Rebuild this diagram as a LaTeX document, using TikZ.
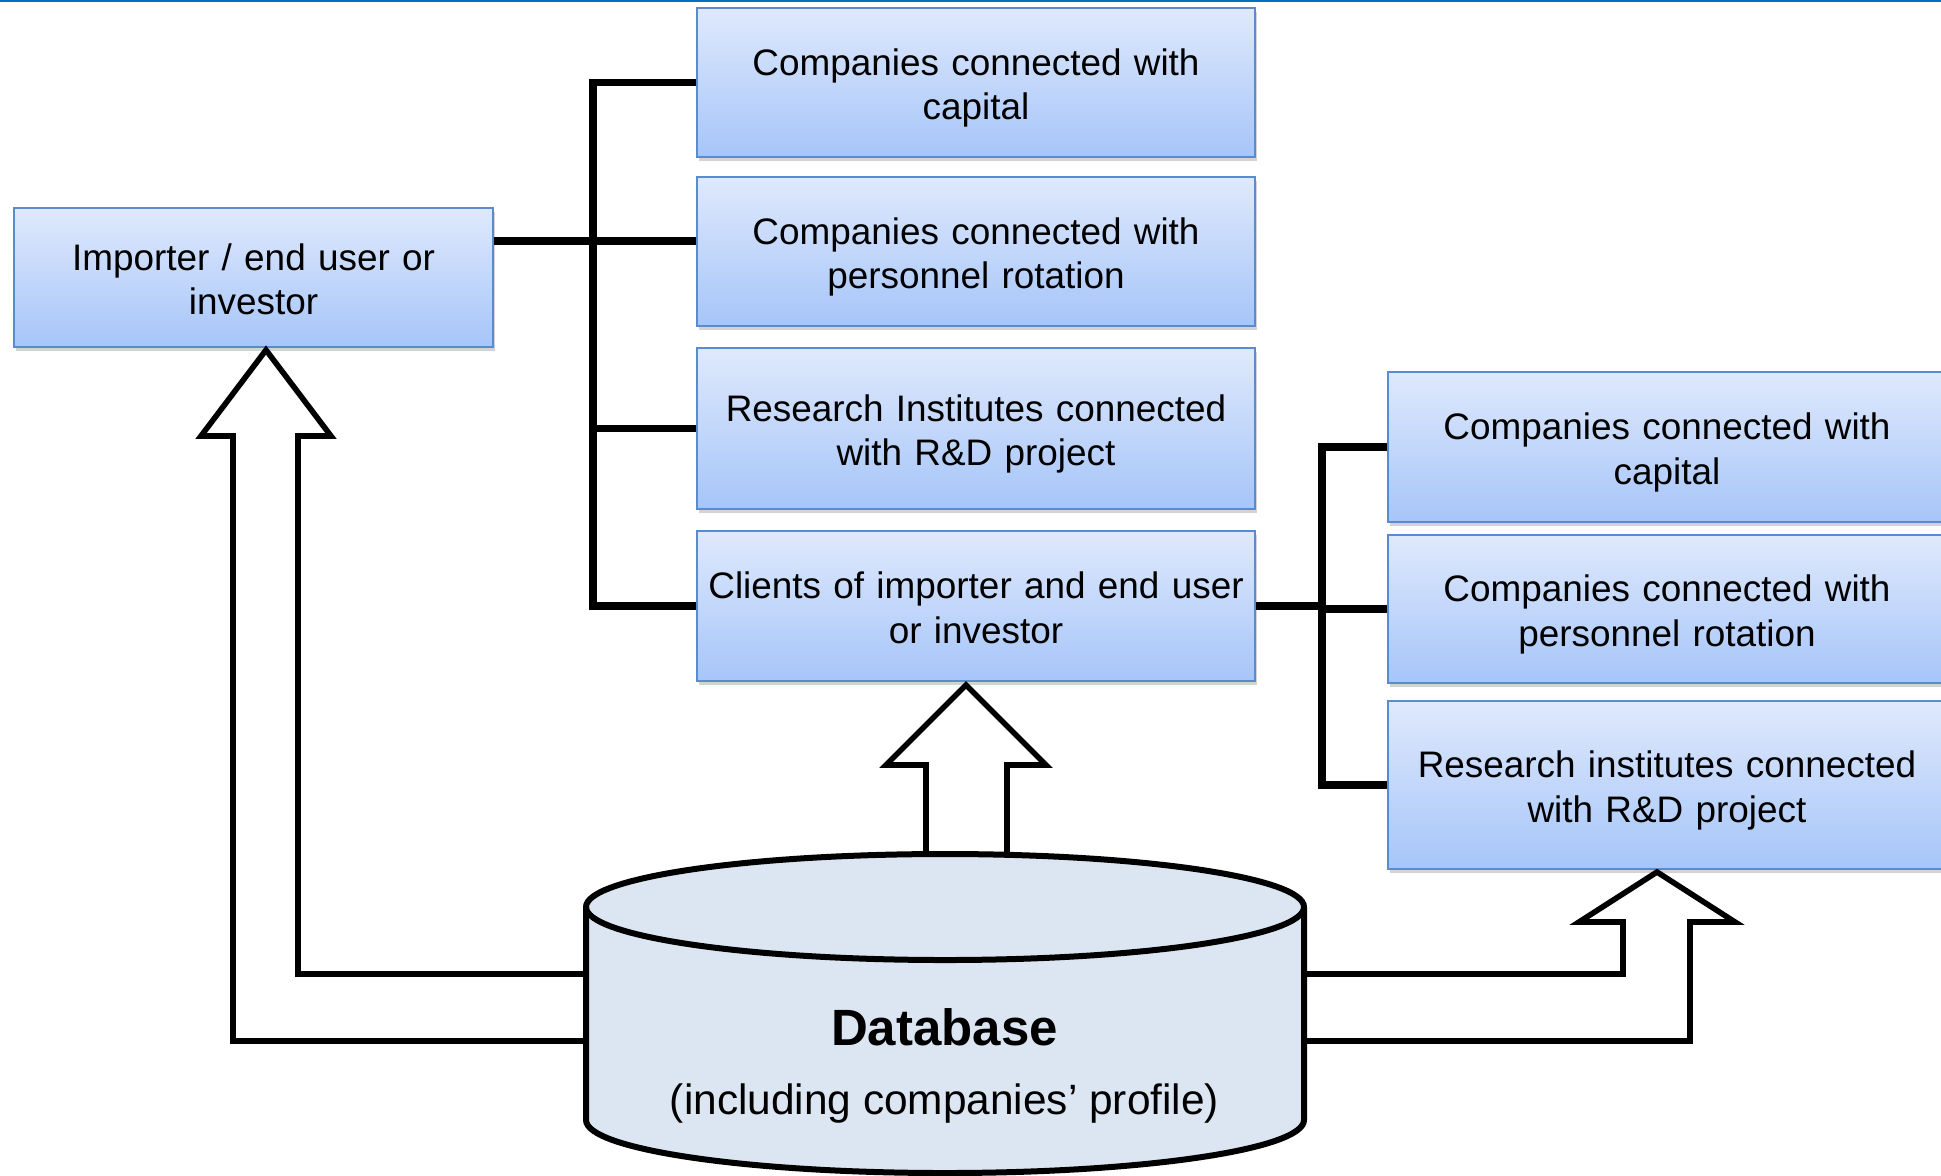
\documentclass[tikz,border=0pt]{standalone}
\usepackage{fontspec}
\setmainfont{Liberation Sans}
\usetikzlibrary{shadows}

\definecolor{boxtop}{HTML}{DFE9FC}
\definecolor{boxbot}{HTML}{A6C5F9}
\definecolor{boxedge}{HTML}{5A8BCF}
\definecolor{dbfill}{HTML}{DCE6F2}
\definecolor{rulecol}{HTML}{0070C0}

\tikzset{
  infobox/.style={draw=boxedge, line width=1pt, top color=boxtop, bottom color=boxbot,
    minimum width=279pt, text width=272pt, align=center, inner sep=2pt,
    font=\fontsize{18.45}{22.2}\selectfont,
    execute at begin node={\rule{0pt}{19.5pt}},
    execute at end node={\rule[-4.5pt]{0pt}{4.5pt}},
    drop shadow={opacity=0.35, shadow xshift=1pt, shadow yshift=-1.8pt}},
  bus/.style={line width=3.6pt},
  hollow/.style={line width=2.8pt, fill=white, line join=miter},
  dbshape/.style={line width=3pt, fill=dbfill}
}

\begin{document}
\begin{tikzpicture}[x=0.5pt, y=-0.5pt]
  \useasboundingbox (0,0) rectangle (1941,1175);
  \clip (0,0) rectangle (1941,1175);

  \draw[rulecol, line width=1pt] (0,1) -- (1941,1);

  \node[infobox, minimum width=239.5pt, text width=230pt, minimum height=69.5pt] (imp) at (253.5,277.5) {Importer / end user or\\investor};

  \node[infobox, minimum height=74.5pt] (capA) at (976, 82.5) {Companies connected with\\capital};
  \node[infobox, minimum height=74.5pt] (rotA) at (976,251.5) {Companies connected with\\personnel rotation};
  \node[infobox, minimum height=80.5pt] (resA) at (976,428.5) {Research Institutes connected\\with R\&D project};
  \node[infobox, minimum height=75pt]   (cli)  at (976,606)   {Clients of importer and end user\\or investor};

  \node[infobox, minimum height=75pt] (capB) at (1667,447) {Companies connected with\\capital};
  \node[infobox, minimum height=74pt] (rotB) at (1667,609) {Companies connected with\\personnel rotation};
  \node[infobox, minimum height=84pt] (resB) at (1667,785) {Research institutes connected\\with R\&D project};

  \coordinate (busA) at (593,83);
  \coordinate (busB) at (1322,446);

  \draw[bus] (capA.west) -- (capA.west -| busA) -- (cli.west -| busA) -- (cli.west);
  \draw[bus] (resA.west -| busA) -- (resA.west);
  \draw[bus] (imp.east |- 0,241) -- (rotA.west |- 0,241);

  \draw[bus] (capB.west) -- (capB.west -| busB) -- (resB.west -| busB) -- (resB.west);
  \draw[bus] (cli.east) -- (cli.east -| busB);
  \draw[bus] (rotB.west -| busB) -- (rotB.west);

  % block arrows out of the database
  \draw[hollow] (600,1041) -- (233,1041) -- (233,436) -- (201,436) -- (266,350)
    -- (331,436) -- (298,436) -- (298,974) -- (600,974);
  \draw[hollow] (926,880) -- (926,765) -- (886,765) -- (966,685) -- (1046,765)
    -- (1007,765) -- (1007,880);
  \draw[hollow] (1290,974) -- (1623,974) -- (1623,922) -- (1579,922) -- (1657,872)
    -- (1735,922) -- (1690,922) -- (1690,1041) -- (1290,1041);

  \filldraw[dbshape] (586,907) -- (586,1120)
    arc[start angle=180, end angle=0, x radius=359, y radius=53] -- (1304,907)
    arc[start angle=0, end angle=-180, x radius=359, y radius=53] -- cycle;
  \draw[line width=3pt] (586,907) arc[start angle=180, end angle=0, x radius=359, y radius=53];

  \node[font=\fontsize{25.5}{30}\selectfont\bfseries] (db) at (944.5,1027) {Database};
  \node[font=\fontsize{21.2}{25}\selectfont] (dbnote) at (944.5,1104) {(including companies’ profile)};
\end{tikzpicture}
\end{document}
